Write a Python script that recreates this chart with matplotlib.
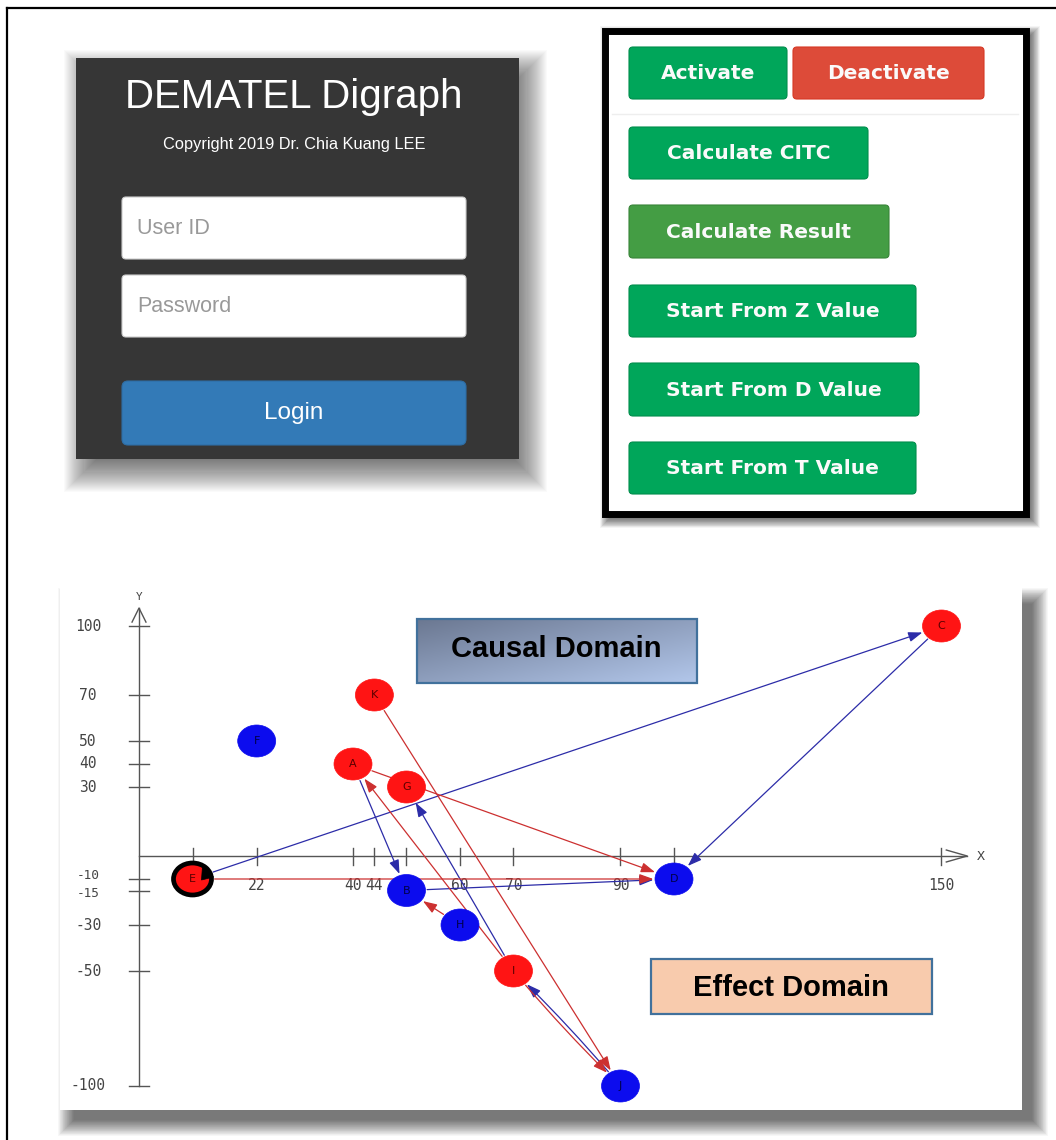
import numpy as np
import matplotlib
matplotlib.use('Agg')
import matplotlib.pyplot as plt
from matplotlib.patches import Rectangle, FancyBboxPatch, Ellipse, Polygon

# digraph data
node_names = ['A', 'B', 'C', 'D', 'E', 'F', 'G', 'H', 'I', 'J', 'K']
node_x = [40, 50, 150, 100, 10, 22, 50, 60, 70, 90, 44]
node_y = [40, -15, 100, -10, -10, 50, 30, -30, -50, -100, 70]
node_kind = ['cause', 'effect', 'cause', 'effect', 'cause', 'effect',
             'cause', 'effect', 'cause', 'effect', 'cause']

edge_src = ['E', 'C', 'A', 'B', 'I', 'J', 'E', 'A', 'K', 'I', 'H', 'I']
edge_dst = ['C', 'D', 'B', 'D', 'G', 'I', 'D', 'D', 'J', 'A', 'B', 'J']
edge_kind = ['blue', 'blue', 'blue', 'blue', 'blue', 'blue',
             'red', 'red', 'red', 'red', 'red', 'red']

x_ticks = [10, 22, 40, 44, 50, 60, 70, 90, 100, 150]
x_tick_labels = ['', '22', '40', '44', '', '60', '70', '90', '', '150']  # others sit under nodes
y_ticks = [100, 70, 50, 40, 30, -10, -15, -30, -50, -100]

button_labels = ['Activate', 'Deactivate', 'Calculate CITC', 'Calculate Result',
                 'Start From Z Value', 'Start From D Value', 'Start From T Value']

W, H = 1056, 1140
fig = plt.figure(figsize=(W / 100, H / 100), dpi=100)
ax = fig.add_axes([0, 0, 1, 1])
ax.set_xlim(0, W)
ax.set_ylim(H, 0)
ax.axis('off')


def soft_shadow(x0, y0, x1, y1, blur, alpha, n=40, z=1):
    a = 1 - (1 - alpha) ** (1.0 / n)
    for i in range(n):
        g = -blur / 2 + blur * i / (n - 1)
        ax.add_patch(Rectangle((x0 - g, y0 - g), (x1 - x0) + 2 * g, (y1 - y0) + 2 * g,
                               facecolor='black', alpha=a, lw=0, zorder=z))


def rbox(x0, y0, x1, y1, fc, ec='none', r=4, lw=0, z=3):
    ax.add_patch(FancyBboxPatch((x0, y0), x1 - x0, y1 - y0,
                                boxstyle='round,pad=0,rounding_size=%g' % r,
                                facecolor=fc, edgecolor=ec, lw=lw, zorder=z))


# outer frame
ax.plot([7, W], [8, 8], color='black', lw=1.6, zorder=10)
ax.plot([7, 7], [8, H], color='black', lw=1.6, zorder=10)

# ---- login panel ----
soft_shadow(84, 70, 527, 472, 40, 0.55)
ax.add_patch(Rectangle((76, 58), 443, 401, facecolor='#363636', lw=0, zorder=2))
ax.text(294, 97, 'DEMATEL Digraph', color='white', fontsize=29, family='Liberation Sans',
        ha='center', va='center', zorder=4)
ax.text(294, 144, 'Copyright 2019 Dr. Chia Kuang LEE', color='white', fontsize=11.8,
        family='Liberation Sans', ha='center', va='center', zorder=4)
rbox(122, 197, 466, 259, 'white', '#cccccc', r=4, lw=0.8)
rbox(122, 275, 466, 337, 'white', '#cccccc', r=4, lw=0.8)
ax.text(137, 228, 'User ID', color='#999999', fontsize=15.5, family='Liberation Sans',
        ha='left', va='center', zorder=4)
ax.text(137, 306, 'Password', color='#999999', fontsize=15.5, family='Liberation Sans',
        ha='left', va='center', zorder=4)
rbox(122, 381, 466, 445, '#337ab7', '#2e6da4', r=6, lw=0.8)
ax.text(294, 413, 'Login', color='white', fontsize=17.5, family='Liberation Sans',
        ha='center', va='center', zorder=4)

# ---- button panel ----
soft_shadow(606, 32, 1034, 522, 12, 0.55)
ax.add_patch(Rectangle((604.5, 30.5), 421, 483, facecolor='white', edgecolor='black',
                       lw=5, zorder=2))
ax.plot([612, 1018], [114, 114], color='#eeeeee', lw=1, zorder=3)
btn_boxes = [(629, 47, 787, 99), (793, 47, 984, 99), (629, 127, 868, 179),
             (629, 205, 889, 258), (629, 285, 916, 337), (629, 363, 919, 416),
             (629, 442, 916, 494)]
btn_colors = ['#00a65a', '#dd4b39', '#00a65a', '#449d44', '#00a65a', '#00a65a', '#00a65a']
btn_edges = ['#008d4c', '#d73925', '#008d4c', '#398439', '#008d4c', '#008d4c', '#008d4c']
for lab, (x0, y0, x1, y1), fc, ec in zip(button_labels, btn_boxes, btn_colors, btn_edges):
    rbox(x0, y0, x1, y1, fc, ec, r=4, lw=0.8)
    ax.text((x0 + x1) / 2, (y0 + y1) / 2 + 0.5, lab, color='#fafafa', fontsize=14.5,
            family='DejaVu Sans', weight='bold', ha='center', va='center', zorder=4)

# ---- digraph panel ----
soft_shadow(66, 596, 1040, 1128, 16, 0.48)
ax.add_patch(Rectangle((60, 573), 962, 537, facecolor='white', lw=0, zorder=2))

# causal domain box with gradient
cx0, cy0, cx1, cy1 = 417, 619, 697, 683
gi, gj = np.mgrid[0:1:64j, 0:1:128j]
t = (gi + gj) / 2
c0 = np.array([0.42, 0.47, 0.57])
c1 = np.array([0.70, 0.78, 0.92])
grad = c0[None, None, :] * (1 - t[..., None]) + c1[None, None, :] * t[..., None]
ax.imshow(grad, extent=(cx0, cx1, cy1, cy0), aspect='auto', zorder=3, interpolation='bilinear')
ax.add_patch(Rectangle((cx0, cy0), cx1 - cx0, cy1 - cy0, facecolor='none',
                       edgecolor='#41719c', lw=1.6, zorder=4))
ax.text(451, 649, 'Causal Domain', color='black', fontsize=21, family='Liberation Sans',
        weight='bold', ha='left', va='center', zorder=5)

ax.add_patch(Rectangle((651, 959), 281, 55, facecolor='#f8cbad', edgecolor='#41719c',
                       lw=1.6, zorder=4))
ax.text(791, 988, 'Effect Domain', color='black', fontsize=21, family='Liberation Sans',
        weight='bold', ha='center', va='center', zorder=5)
ax.set_xlim(0, W)
ax.set_ylim(H, 0)

# chart axes: pixel = 139 + 5.35*x, 856 - 2.3*y
PX0, PY0, SX, SY = 139, 856, 5.35, 2.3
bx0, by0, bx1, by1 = 60, 573, 1022, 1110
ax2 = fig.add_axes([bx0 / W, 1 - by1 / H, (bx1 - bx0) / W, (by1 - by0) / H])
ax2.set_xlim((bx0 - PX0) / SX, (bx1 - PX0) / SX)
ax2.set_ylim((PY0 - by1) / SY, (PY0 - by0) / SY)
ax2.patch.set_alpha(0)
ax2.axis('off')

axis_c = '#555555'
tick_c = '#444444'
ax2.plot([0, 0], [-100, 107.8], color=axis_c, lw=1, zorder=1)
ax2.plot([-1.3, 0, 1.3], [101.7, 107.8, 101.7], color=axis_c, lw=1, zorder=1)
ax2.text(0, 112.5, 'Y', color=tick_c, fontsize=8, family='DejaVu Sans Mono',
         ha='center', va='center')
ax2.plot([0, 154.8], [0, 0], color=axis_c, lw=1, zorder=1)
ax2.plot([150.9, 154.8, 150.9], [2.6, 0, -2.6], color=axis_c, lw=1, zorder=1)
ax2.text(157.3, 0, 'X', color=tick_c, fontsize=9.5, family='DejaVu Sans Mono',
         ha='center', va='center')

for xv, lab in zip(x_ticks, x_tick_labels):
    ax2.plot([xv, xv], [3.6, -3.8], color=axis_c, lw=1, zorder=1)
    if lab:
        ax2.text(xv, -13, lab, color=tick_c, fontsize=10.5, family='DejaVu Sans Mono',
                 ha='center', va='center', zorder=1)
for yv in y_ticks:
    ax2.plot([-1.9, 1.9], [yv, yv], color=axis_c, lw=1, zorder=1)
    # -10 and -15 nearly coincide; nudge them apart a little
    nudge = {-10: 3.2 / SY, -15: -3.2 / SY}.get(yv, 0)
    fs = 9.2 if yv in (-10, -15) else 10.5
    ax2.text(-9.5, yv + nudge, str(yv), color=tick_c, fontsize=fs, family='DejaVu Sans Mono',
             ha='center', va='center', zorder=1)

# nodes
ew, eh = 38 / SX, 32 / SY
ells = {}
for name, xv, yv, kind in zip(node_names, node_x, node_y, node_kind):
    fc = '#ff1414' if kind == 'cause' else '#0c0cee'
    ec = 'black' if name == 'E' else fc
    lw = 3.4 if name == 'E' else 0.5
    e = Ellipse((xv, yv), ew, eh, facecolor=fc, edgecolor=ec, lw=lw, zorder=5)
    ax2.add_patch(e)
    ells[name] = e
    tc = '#5a0000' if kind == 'cause' else '#00004a'
    ax2.text(xv, yv, name, color=tc, fontsize=8, family='DejaVu Sans',
             ha='center', va='center', zorder=6)

# self loop arrowhead on E
ex, ey = node_x[node_names.index('E')], node_y[node_names.index('E')]
tri = [(ex + 10 / SX, ey + 13 / SY), (ex + 21 / SX, ey + 2 / SY), (ex + 9 / SX, ey - 1 / SY)]
ax2.add_patch(Polygon(tri, closed=True, facecolor='black', edgecolor='black', lw=0.5, zorder=7))

# edges
pos = {n: (xv, yv) for n, xv, yv in zip(node_names, node_x, node_y)}
for s, d, kind in zip(edge_src, edge_dst, edge_kind):
    col = '#2c2ca8' if kind == 'blue' else '#cc3030'
    rad = 0.025 if {s, d} == {'I', 'J'} else 0.0
    ax2.annotate('', xy=pos[d], xytext=pos[s],
                 arrowprops=dict(arrowstyle='-|>,head_length=0.7,head_width=0.25',
                                 color=col, lw=0.9, mutation_scale=12,
                                 patchA=ells[s], patchB=ells[d], shrinkA=1, shrinkB=1,
                                 connectionstyle='arc3,rad=%g' % rad),
                 zorder=3)

fig.savefig('out.png', dpi=100)
